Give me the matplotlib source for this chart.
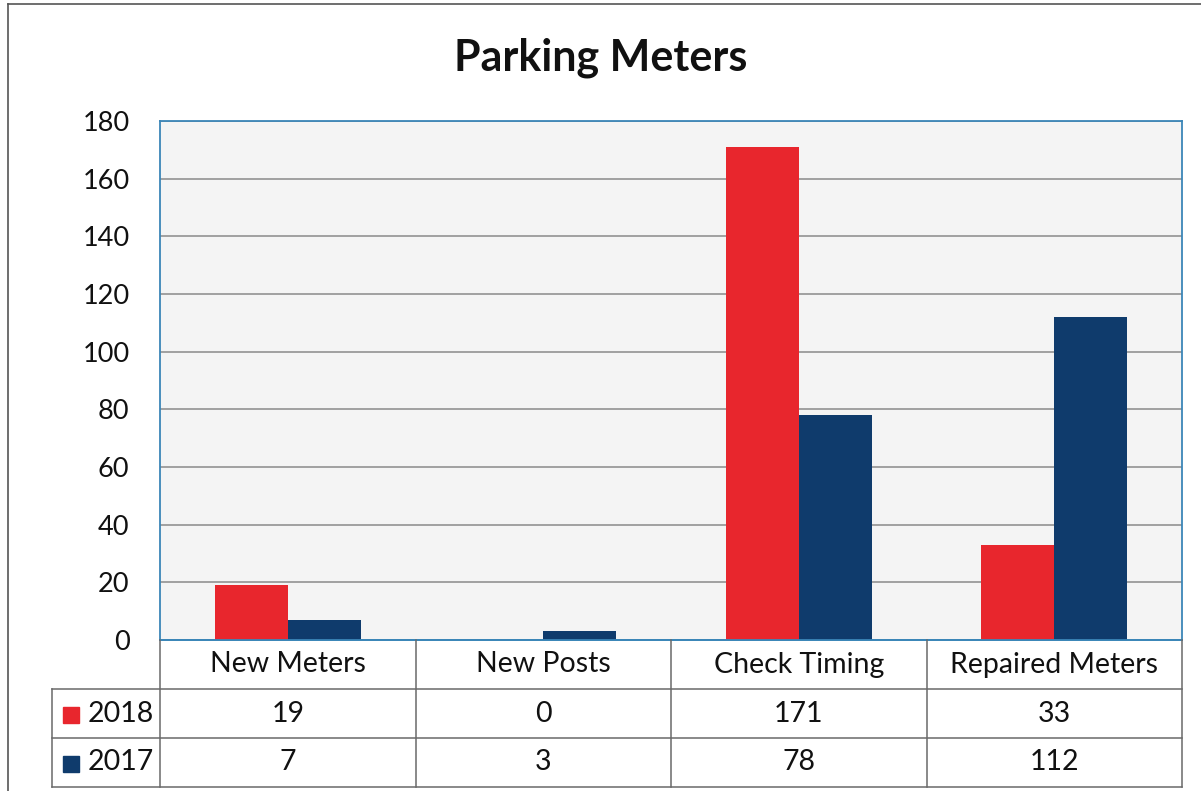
import matplotlib.pyplot as plt
from matplotlib.lines import Line2D
import numpy as np

plt.rcParams['font.family'] = ['Lato', 'DejaVu Sans']

categories = ["New Meters", "New Posts", "Check Timing", "Repaired Meters"]
series_names = ["2018", "2017"]
vals_2018 = [19, 0, 171, 33]
vals_2017 = [7, 3, 78, 112]
yticks = [0, 20, 40, 60, 80, 100, 120, 140, 160, 180]

red = '#e8262d'
navy = '#0f3b6c'
W, H = 1201, 791
fs = 20.5

fig = plt.figure(figsize=(W / 100, H / 100), dpi=100)
fig.patch.set_facecolor('white')

# plot area in pixels
px0, px1, py0, py1 = 160, 1182, 121, 640
ax = fig.add_axes([px0 / W, 1 - py1 / H, (px1 - px0) / W, (py1 - py0) / H])
ax.set_facecolor('#f4f4f4')

x = np.arange(len(categories))
bw = 0.285
ax.bar(x - bw / 2, vals_2018, bw, color=red, zorder=3)
ax.bar(x + bw / 2, vals_2017, bw, color=navy, zorder=3)

ax.set_xlim(-0.5, len(categories) - 0.5)
ax.set_ylim(0, 180)
ax.set_yticks(yticks)
ax.set_yticklabels([str(t) for t in yticks], fontsize=19.5, color='#111111')
ax.tick_params(axis='y', length=0, pad=22)
ax.set_xticks([])
ax.grid(axis='y', color='#8a8a8a', linewidth=1.1, zorder=1)
for s in ax.spines.values():
    s.set_color('#3b86b8')
    s.set_linewidth(1.3)

fig.text(0.5, 1 - 58 / H, "Parking Meters", ha='center', va='center',
         fontsize=31, fontweight='bold', color='#111111')

# data table below the plot
tx0 = 52
cw = (px1 - px0) / len(categories)
rows = [640, 689, 738, 787]
tab = fig.add_axes([0, 0, 1, 1])
tab.set_xlim(0, W)
tab.set_ylim(H, 0)
tab.axis('off')
tab.patch.set_alpha(0)

lc = '#6a6a6a'
# horizontal lines
tab.add_line(Line2D([px0, px1], [rows[0], rows[0]], color='#3b86b8', lw=1.3))
for yy in rows[1:]:
    tab.add_line(Line2D([tx0, px1], [yy, yy], color=lc, lw=1.1))
# vertical lines
tab.add_line(Line2D([tx0, tx0], [rows[1], rows[3]], color=lc, lw=1.1))
for i in range(len(categories) + 1):
    xx = px0 + i * cw
    tab.add_line(Line2D([xx, xx], [rows[0], rows[3]], color=lc, lw=1.1))

for i, c in enumerate(categories):
    xc = px0 + (i + 0.5) * cw
    tab.text(xc, (rows[0] + rows[1]) / 2, c, ha='center', va='center',
             fontsize=fs, color='#111111')
    tab.text(xc, (rows[1] + rows[2]) / 2, str(vals_2018[i]), ha='center',
             va='center', fontsize=fs, color='#111111')
    tab.text(xc, (rows[2] + rows[3]) / 2, str(vals_2017[i]), ha='center',
             va='center', fontsize=fs, color='#111111')

for r, (name, col) in enumerate(zip(series_names, [red, navy])):
    yc = (rows[r + 1] + rows[r + 2]) / 2
    tab.add_patch(plt.Rectangle((63, yc - 7), 16, 16, color=col))
    tab.text(88, yc, name, ha='left', va='center', fontsize=fs,
             color='#111111')

# outer chart frame (top and left edges visible in the scan)
tab.add_line(Line2D([8, W], [4, 4], color='#555555', lw=1.2))
tab.add_line(Line2D([8, 8], [4, H], color='#555555', lw=1.2))

fig.savefig('out.png', dpi=100)
